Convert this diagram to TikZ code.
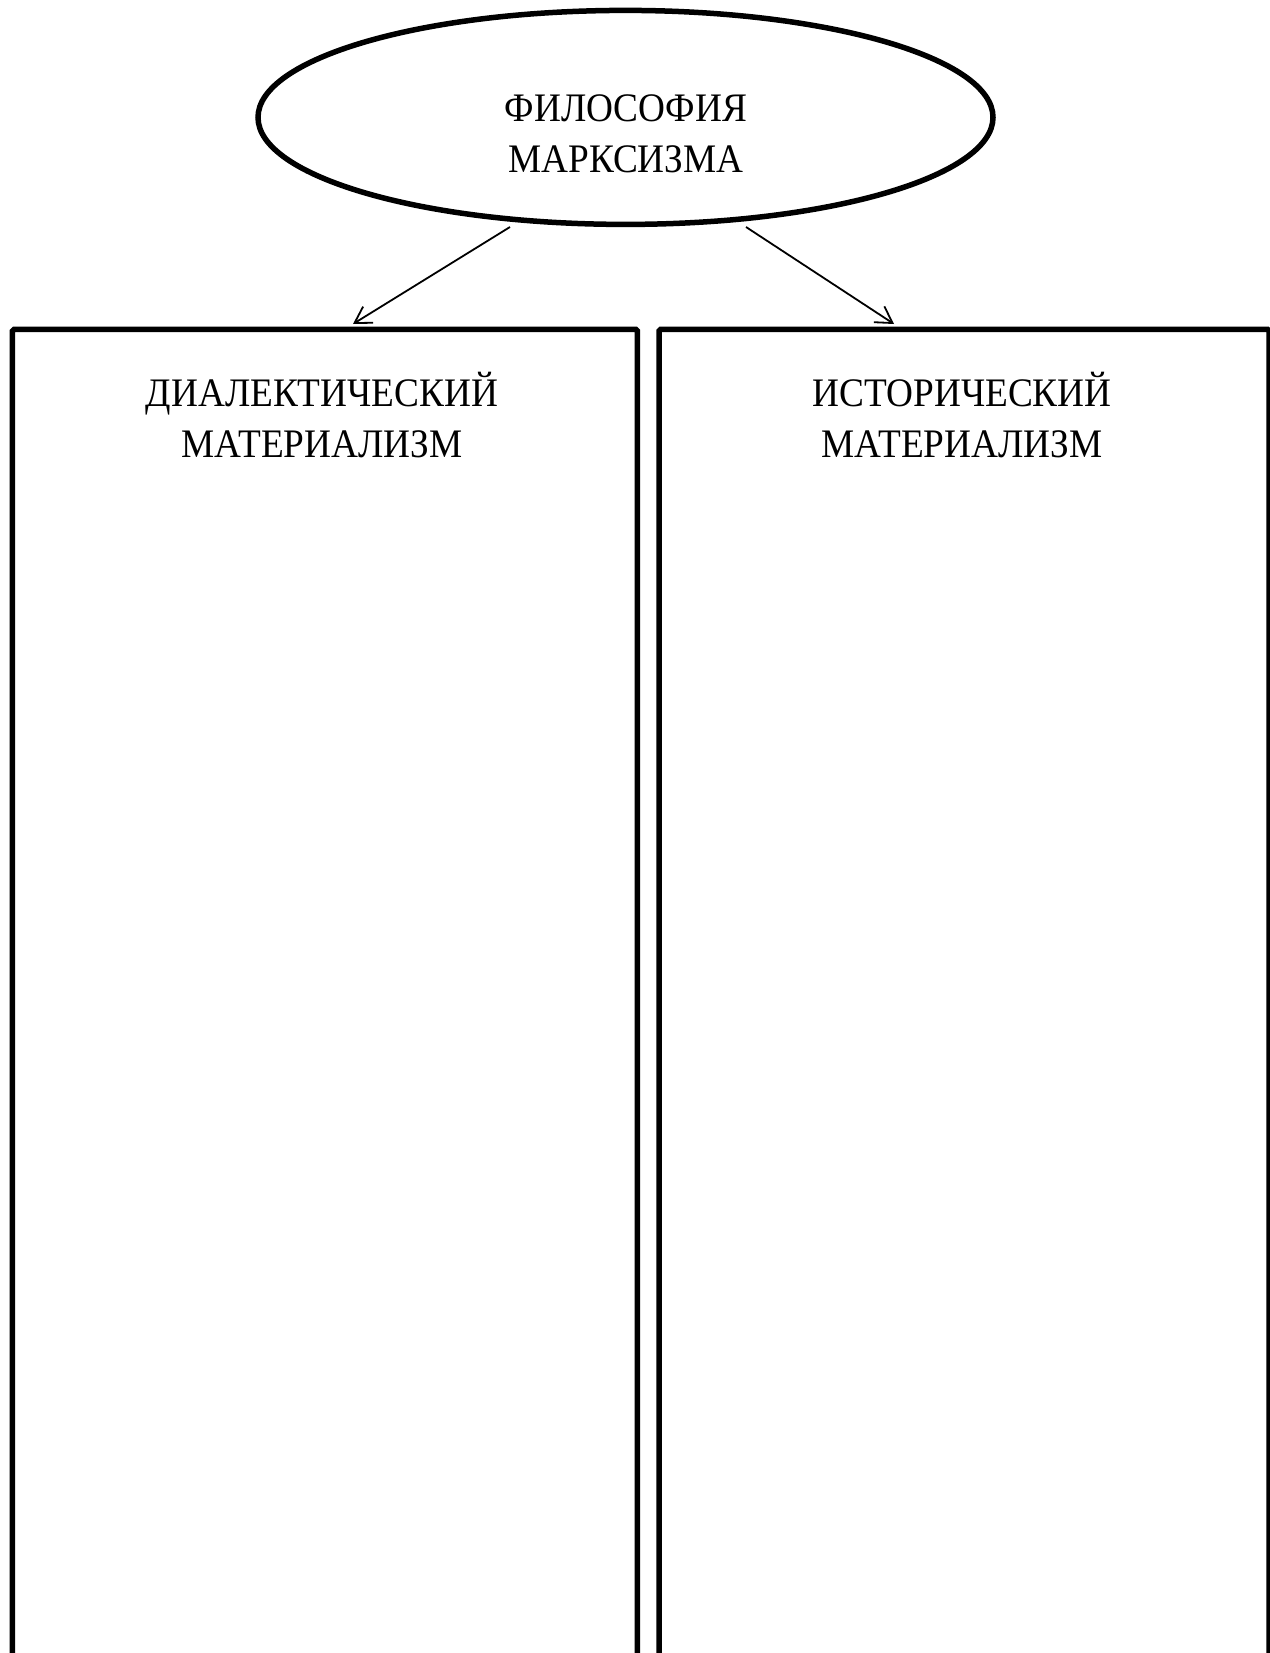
\documentclass[tikz,border=0pt]{standalone}
\usepackage{fontspec}
\setmainfont[FakeStretch=0.92]{Liberation Serif}
\usetikzlibrary{arrows.meta,shapes.geometric}
\tikzset{
  ovalbox/.style={ellipse, draw, line width=5.5pt, minimum width=735pt, minimum height=214pt, inner sep=0pt},
  colbox/.style={rectangle, draw, line width=5.5pt, rounded corners=1.5pt, inner sep=0pt, anchor=north west},
  caption/.style={align=center, font=\fontsize{40.5}{51}\selectfont, inner sep=0pt},
  link/.style={line width=1.8pt, -{Straight Barb[length=16pt, width=19pt, line width=1.8pt]}}
}
\begin{document}
\begin{tikzpicture}[x=1pt, y=-1pt]
\useasboundingbox (0,0) rectangle (1269,1653);
\fill[white] (0,0) rectangle (1269,1653);
\node[ovalbox] (fm) at (625.5,117.4) {};
\node[caption] (fmt) at (626,134) {ФИЛОСОФИЯ\\МАРКСИЗМА};
\node[colbox, minimum width=625pt, minimum height=1400pt] (dm) at (9.7,326.7) {};
\node[colbox, minimum width=610pt, minimum height=1400pt] (hm) at (656.3,326.7) {};
\node[caption] (dmt) at (322,415) {ДИАЛЕКТИЧЕСКИЙ\\МАТЕРИАЛИЗМ};
\node[caption] (hmt) at (962,415) {ИСТОРИЧЕСКИЙ\\МАТЕРИАЛИЗМ};
\coordinate (s1) at (510,227);
\coordinate (e1) at (353,324);
\coordinate (s2) at (746,227);
\coordinate (e2) at (894,324);
\draw[link] (s1) -- (e1);
\draw[link] (s2) -- (e2);
\end{tikzpicture}
\end{document}
